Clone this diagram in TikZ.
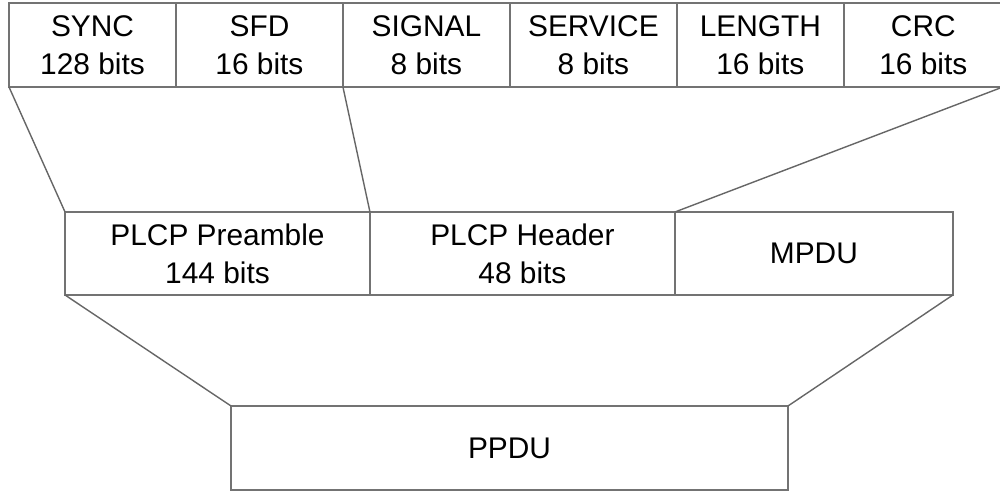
\documentclass[tikz,border=0pt]{standalone}
\usepackage{fontspec}
\setmainfont{Liberation Sans}
\usetikzlibrary{positioning}

\begin{document}
\begin{tikzpicture}[
    x=0.02cm, y=-0.02cm,
    node distance=0pt,
    field/.style={rectangle, draw=black!55, line width=0.8pt, outer sep=0pt, inner sep=0pt, align=center, font=\fontsize{17}{21.5}\selectfont},
    topfield/.style={field, minimum width=3.34cm, minimum height=1.68cm},
    midfield/.style={field, minimum width=6.1cm, minimum height=1.66cm},
    link/.style={draw=black!60, line width=0.8pt}
]
\useasboundingbox (0,0) rectangle (1000,491);

% Top row: PLCP fields
\node[topfield] (sync) at (92.5,45) {SYNC\\128 bits};
\node[topfield, right=of sync] (sfd) {SFD\\16 bits};
\node[topfield, right=of sfd] (signal) {SIGNAL\\8 bits};
\node[topfield, right=of signal] (service) {SERVICE\\8 bits};
\node[topfield, right=of service] (length) {LENGTH\\16 bits};
\node[topfield, right=of length, minimum width=3.18cm] (crc) {CRC\\16 bits};

% Middle row: PLCP frame
\node[midfield] (preamble) at (217.5,253.5) {PLCP Preamble\\144 bits};
\node[midfield, right=of preamble] (header) {PLCP Header\\48 bits};
\node[midfield, right=of header, minimum width=5.56cm] (mpdu) {MPDU};

% Bottom row
\node[field, minimum width=11.14cm, minimum height=1.68cm] (ppdu) at (509.5,448) {PPDU};

% Expansion lines
\draw[link] (sync.south west) -- (preamble.north west);
\draw[link] (sfd.south east) -- (header.north west);
\draw[link] (crc.south east) -- (mpdu.north west);
\draw[link] (preamble.south west) -- (ppdu.north west);
\draw[link] (mpdu.south east) -- (ppdu.north east);

\end{tikzpicture}
\end{document}
